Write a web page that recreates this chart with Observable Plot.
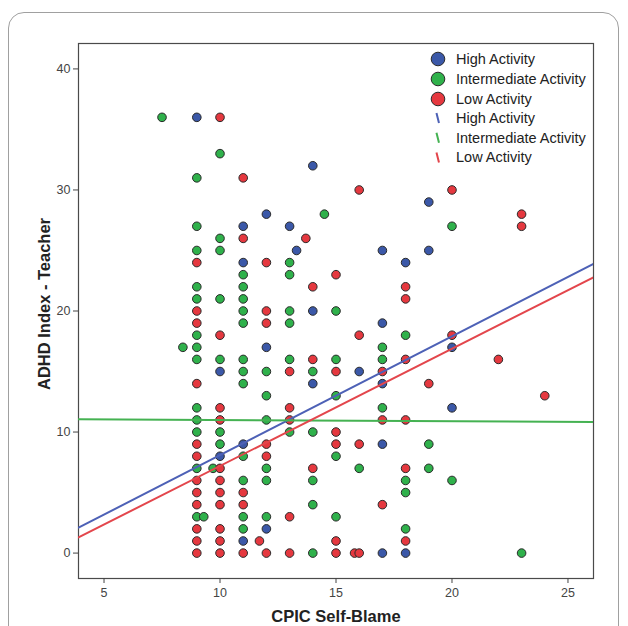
<!DOCTYPE html>
<html>
<head>
<meta charset="utf-8">
<script src="https://cdn.jsdelivr.net/npm/d3@7"></script>
<script src="https://cdn.jsdelivr.net/npm/@observablehq/plot@0.6"></script>
<style>
  html, body { margin: 0; padding: 0; background: #fff; overflow: hidden; }
  #wrap { position: relative; width: 628px; height: 626px; }
  #box { position: absolute; left: 8px; top: 12px; width: 611px; height: 700px;
         border: 1.5px solid #a0a0a0; border-radius: 16px; box-sizing: border-box; }
  #chart { position: absolute; left: 0; top: 0; }
  #chart svg { font-family: "Liberation Sans", Arial, sans-serif; }
</style>
</head>
<body>
<div id="wrap"><div id="box"></div><div id="chart"></div></div>
<script>
// ---- data ----
const groups = ["High Activity", "Intermediate Activity", "Low Activity"];
const colors = ["#3b58a8", "#2fb14b", "#e5383f"];
const lineColors = ["#4d61b6", "#45b252", "#e3464c"];

const highX = [9, 14, 19, 12, 13, 11, 13.3, 17, 19, 11, 18, 14, 17, 12, 20, 10, 16, 14, 17, 20, 11, 10, 17, 12, 11, 17, 18];
const highY = [36, 32, 29, 28, 27, 27, 25, 25, 25, 24, 24, 20, 19, 17, 17, 15, 15, 14, 14, 12, 9, 8, 9, 2, 1, 0, 0];

const interX = [7.5, 10, 9, 14.5, 9, 20, 10, 9, 10, 13, 11, 13, 9, 11, 9, 10, 11, 11, 13, 15, 11, 13, 9, 18, 8.4, 9, 17,
  9, 10, 11, 13, 15, 17, 11, 12, 14, 11, 12, 15, 9, 17, 9, 12, 9, 10, 13, 14, 10, 19, 11, 15, 9, 9.7, 12, 16, 19,
  11, 12, 14, 18, 20, 18, 14, 9, 9.3, 11, 12, 15, 11, 18, 14, 23];
const interY = [36, 33, 31, 28, 27, 27, 26, 25, 25, 24, 23, 23, 22, 22, 21, 21, 21, 20, 20, 20, 19, 19, 18, 18, 17, 17, 17,
  16, 16, 16, 16, 16, 16, 15, 15, 15, 14, 13, 13, 12, 12, 11, 11, 10, 10, 10, 10, 9, 9, 8, 8, 7, 7, 7, 7, 7,
  6, 6, 6, 6, 6, 5, 4, 3, 3, 3, 3, 3, 2, 2, 0, 0];

const lowX = [10, 11, 16, 20, 23, 23, 11, 13.7, 9, 12, 15, 14, 18, 18, 9, 12, 9, 12, 10, 16, 20, 22, 14, 18, 13, 15, 17,
  9, 19, 24, 10, 13, 10, 13, 17, 18, 15, 9, 12, 15, 16, 9, 12, 10, 14, 18, 9, 10, 9, 10, 11, 9, 10, 11, 17, 13,
  9, 10, 9, 10, 11.7, 15, 18, 9, 10, 11, 12, 13, 15, 15.8, 16];
const lowY = [36, 31, 30, 30, 28, 27, 26, 26, 24, 24, 23, 22, 22, 21, 20, 20, 19, 19, 18, 18, 18, 16, 16, 16, 15, 15, 15,
  14, 14, 13, 12, 12, 11, 11, 11, 11, 10, 9, 9, 9, 9, 8, 8, 7, 7, 7, 6, 6, 5, 5, 5, 4, 4, 4, 4, 3,
  2, 2, 1, 1, 1, 1, 1, 0, 0, 0, 0, 0, 0, 0, 0];

// fit lines (intercept, slope) as drawn
const intercepts = [-1.73, 11.09, -2.48];
const slopes = [0.982, -0.0099, 0.968];

const xTicks = [5, 10, 15, 20, 25];
const yTicks = [0, 10, 20, 30, 40];
const xDomain = [3.9, 26.1];
const yDomain = [-2.1, 42.1];

// ---- build tables ----
const seriesX = [highX, interX, lowX];
const seriesY = [highY, interY, lowY];
const points = [];
groups.forEach((g, i) => seriesX[i].forEach((x, j) => points.push({group: g, x, y: seriesY[i][j]})));
const fitLines = [];
groups.forEach((g, i) => xDomain.forEach(x => fitLines.push({group: g, x, y: intercepts[i] + slopes[i] * x})));

const svg = Plot.plot({
  width: 628,
  height: 626,
  marginLeft: 78,
  marginRight: 35,
  marginTop: 43,
  marginBottom: 48,
  style: {fontFamily: "'Liberation Sans', Arial, sans-serif", background: "transparent"},
  x: {domain: xDomain, ticks: xTicks},
  y: {domain: yDomain, ticks: yTicks},
  color: {domain: groups, range: colors},
  marks: [
    Plot.frame({stroke: "#4a4a4a", strokeWidth: 1.2}),
    Plot.axisX({ticks: xTicks, tickSize: 5, tickPadding: 5, fontSize: 12.5, color: "#444", label: null, stroke: "#444"}),
    Plot.axisY({ticks: yTicks, tickSize: 5, tickPadding: 3, fontSize: 12.5, color: "#444", label: null, stroke: "#444"}),
    Plot.text(["CPIC Self-Blame"], {frameAnchor: "bottom", dy: 43, fontSize: 16.5, fontWeight: "bold", fill: "#222"}),
    Plot.text(["ADHD Index - Teacher"], {frameAnchor: "left", textAnchor: "middle", dx: -34, dy: -7, rotate: -90, fontSize: 16.5, fontWeight: "bold", fill: "#222"}),
    Plot.dot(points, {x: "x", y: "y", fill: "group", stroke: "#2a2a2a", strokeWidth: 1, r: 4.3}),
    Plot.line(fitLines, {x: "x", y: "y", z: "group", stroke: d => lineColors[groups.indexOf(d.group)], strokeWidth: 2, clip: true})
  ]
});
document.getElementById("chart").appendChild(svg);

// ---- legend ----
const lg = d3.select(svg).append("g")
  .attr("font-family", "'Liberation Sans', Arial, sans-serif")
  .attr("font-size", 14.5).attr("fill", "#222").attr("text-anchor", "start");
groups.forEach((g, i) => {
  const cy = 59 + i * 20;
  lg.append("circle").attr("cx", 438).attr("cy", cy).attr("r", 6.8)
    .attr("fill", colors[i]).attr("stroke", "#2a2a2a").attr("stroke-width", 1);
  lg.append("text").attr("x", 456).attr("y", cy).attr("dy", "0.35em").attr("text-anchor", "start").text(g);
});
groups.forEach((g, i) => {
  const cy = 118 + i * 19.7;
  lg.append("line").attr("x1", 436.5).attr("y1", cy - 5).attr("x2", 439).attr("y2", cy + 5)
    .attr("stroke", lineColors[i]).attr("stroke-width", 2);
  lg.append("text").attr("x", 456).attr("y", cy).attr("dy", "0.35em").attr("text-anchor", "start").text(g);
});
</script>
</body>
</html>
